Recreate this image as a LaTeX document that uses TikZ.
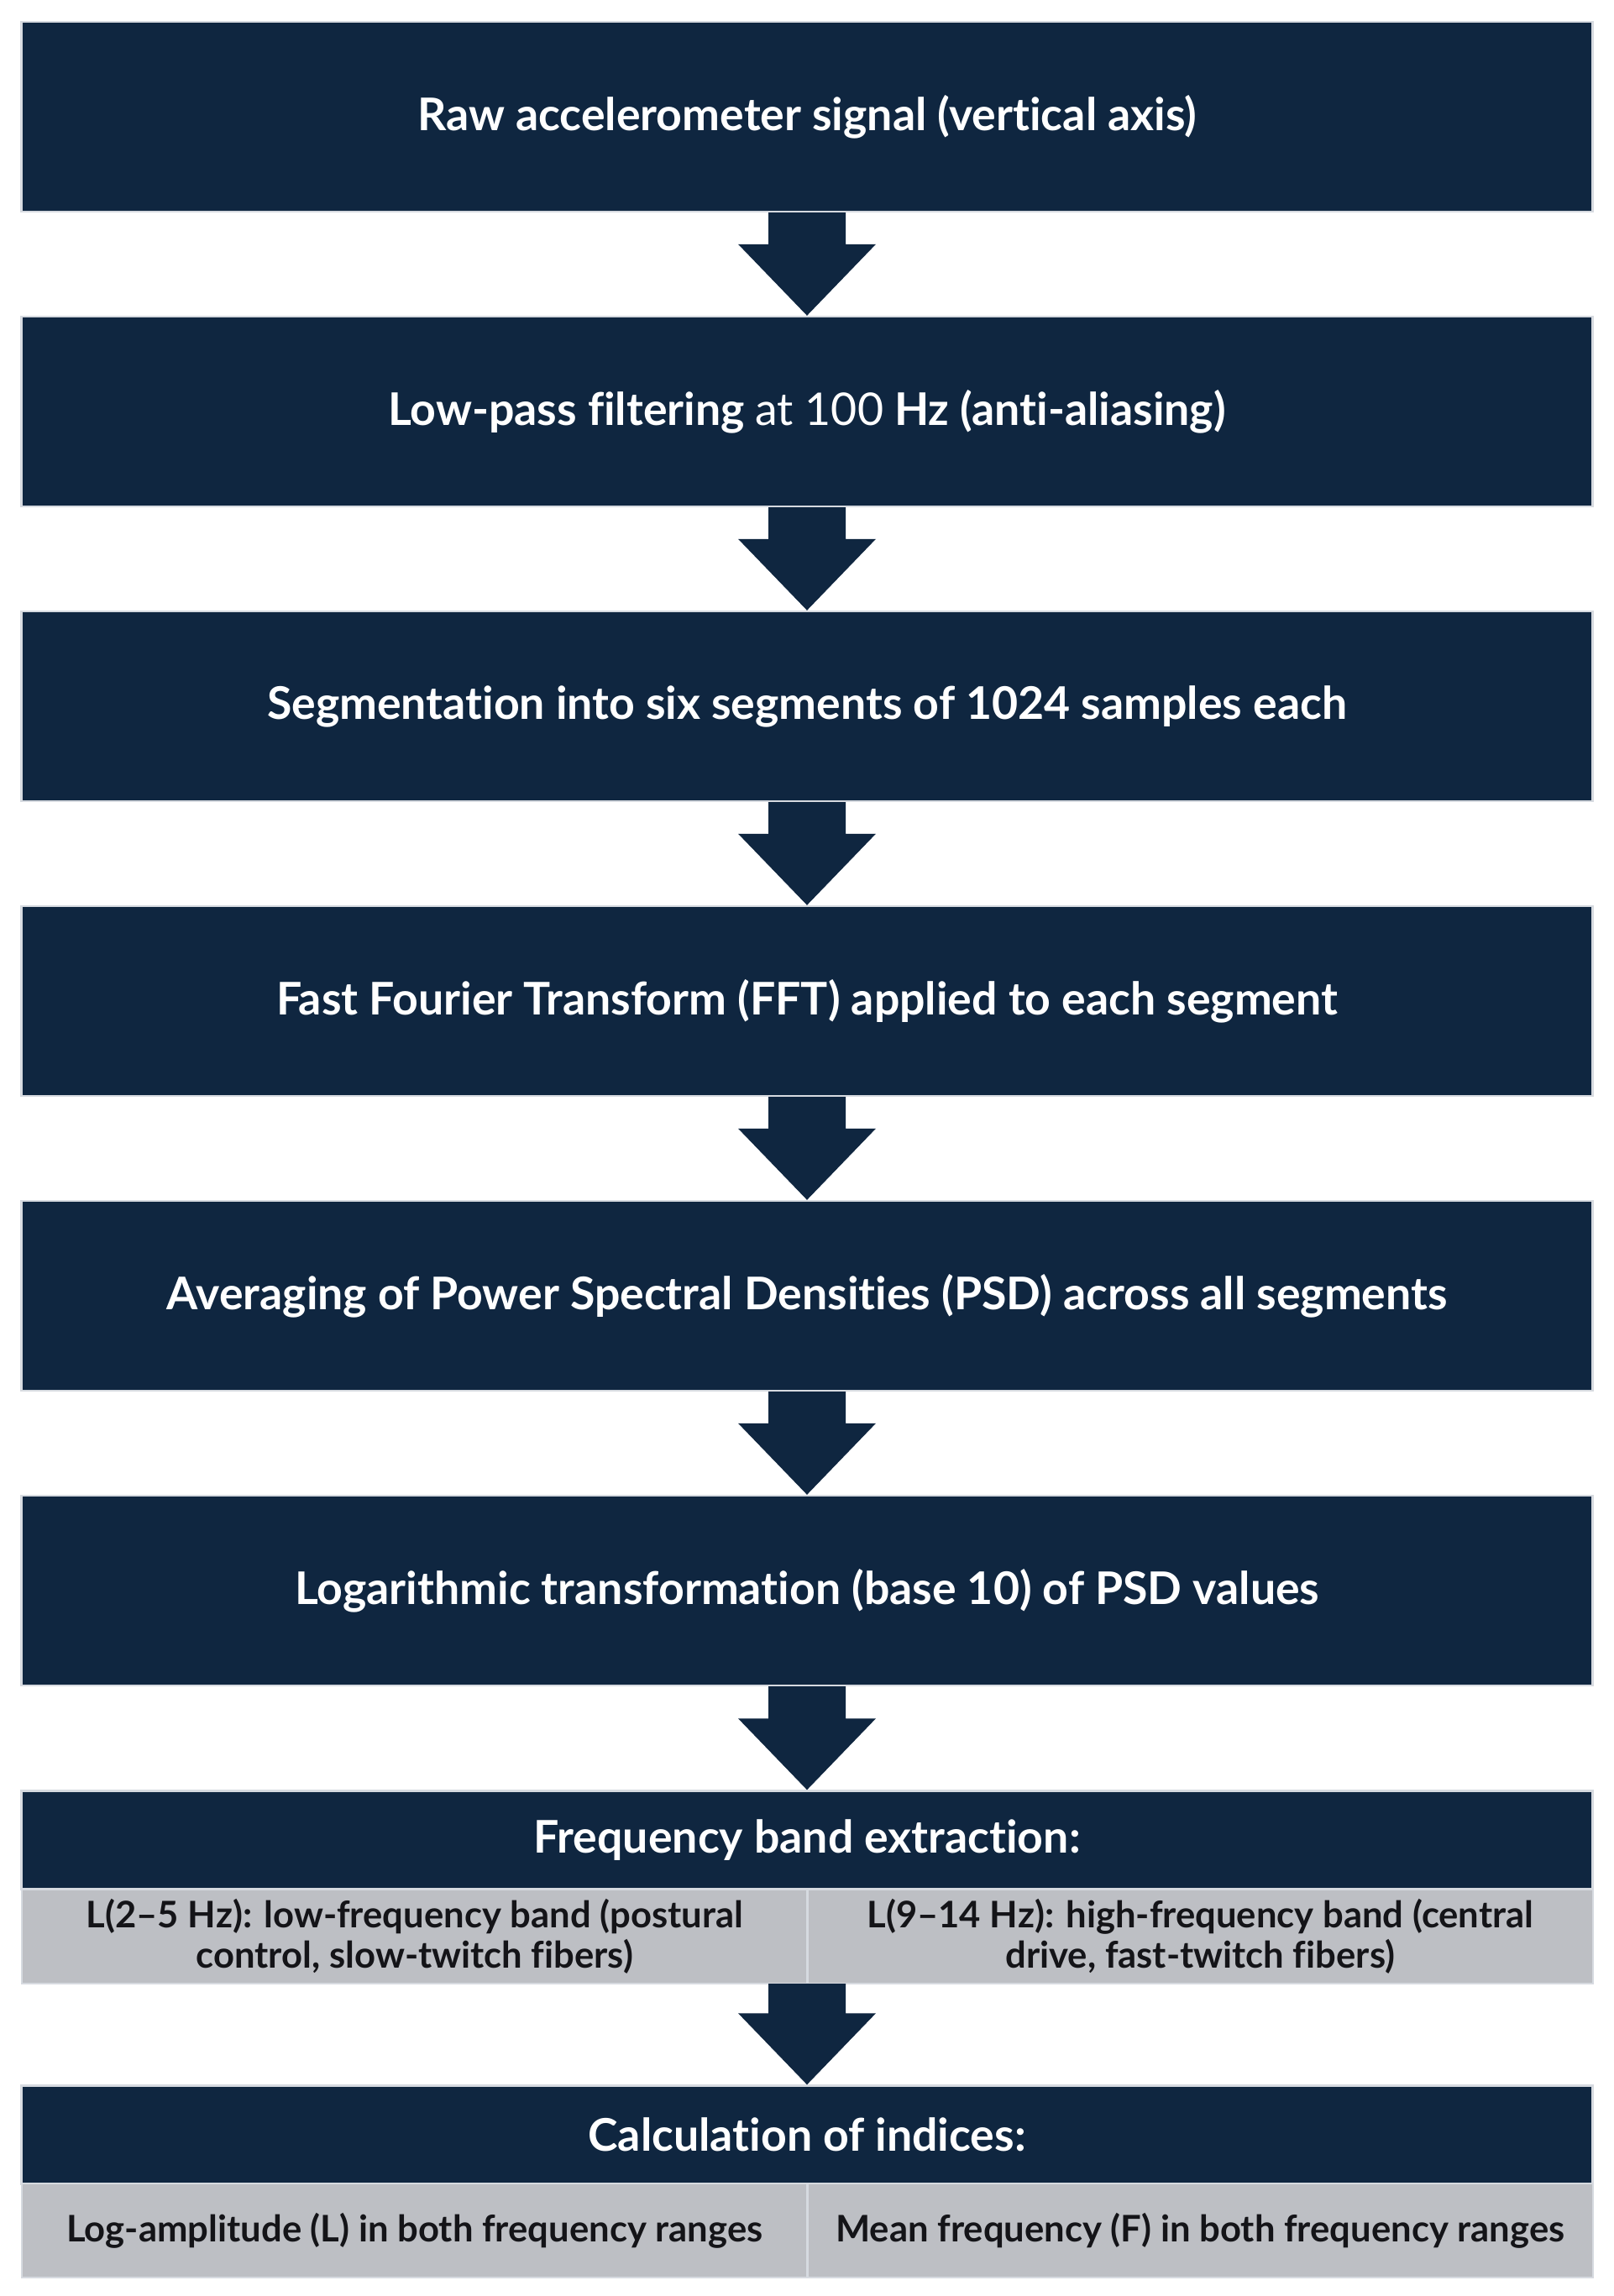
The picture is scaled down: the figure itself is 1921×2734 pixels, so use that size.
\documentclass[tikz,border=0pt]{standalone}
\usepackage{fontspec}
\setmainfont{Lato}[Ligatures={NoCommon}]
\usetikzlibrary{calc}
\definecolor{navy}{RGB}{15,38,64}
\definecolor{cellgrey}{RGB}{189,191,196}
\definecolor{edgegrey}{RGB}{214,218,224}
\definecolor{celltext}{RGB}{20,20,24}
\newcommand\flowarrow[2]{%
  \fill[navy] ($(#1)+(-46,0)$) -- ($(#2)+(-46,-85)$) -- ($(#2)+(-82,-85)$)
    -- (#2) -- ($(#2)+(82,-85)$) -- ($(#2)+(46,-85)$)
    -- ($(#1)+(46,0)$) -- cycle;}
\begin{document}
\begin{tikzpicture}[x=0.5pt,y=-0.5pt,
  stepbox/.style={fill=navy, draw=edgegrey, line width=1.2pt, inner sep=0pt,
    minimum width=935.5pt, minimum height=113pt, text=white, align=center,
    font=\bfseries\fontsize{26.8}{32}\selectfont},
  headbox/.style={stepbox, minimum height=58.5pt},
  cellbox/.style={fill=cellgrey, draw=edgegrey, line width=1.2pt, inner sep=0pt,
    minimum width=467.75pt, minimum height=56pt, text=celltext, align=center,
    font=\bfseries\fontsize{21.8}{24}\selectfont}]
\useasboundingbox (0,0) rectangle (1921,2734);
\fill[white] (0,0) rectangle (1921,2734);

\node[stepbox] (b1) at (961,139) {Raw accelerometer signal (vertical axis)};
\node[stepbox] (b2) at (961,490) {Low-pass filtering {\mdseries at 100} Hz (anti-aliasing)};
\node[stepbox] (b3) at (961,841) {Segmentation into six segments of 1024 samples each};
\node[stepbox] (b4) at (961,1192) {Fast Fourier Transform (FFT) applied to each segment};
\node[stepbox] (b5) at (961,1543) {Averaging of Power Spectral Densities (PSD) across all segments};
\node[stepbox] (b6) at (961,1894) {Logarithmic transformation (base 10) of PSD values};

\node[headbox] (h7) at (961,2191) {Frequency band extraction:};
\node[cellbox] (c7l) at (493.75,2306) {L(2--5 Hz): low-frequency band (postural\\control, slow-twitch fibers)};
\node[cellbox] (c7r) at (1429.25,2306) {L(9--14 Hz): high-frequency band (central\\drive, fast-twitch fibers)};
\coordinate (g7) at (961,2362);

\node[headbox] (h8) at (961,2542) {Calculation of indices:};
\node[cellbox] (c8l) at (493.75,2656) {Log-amplitude (L) in both frequency ranges};
\node[cellbox] (c8r) at (1429.25,2656) {Mean frequency (F) in both frequency ranges};

\flowarrow{b1.south}{b2.north}
\flowarrow{b2.south}{b3.north}
\flowarrow{b3.south}{b4.north}
\flowarrow{b4.south}{b5.north}
\flowarrow{b5.south}{b6.north}
\flowarrow{b6.south}{h7.north}
\flowarrow{g7}{h8.north}
\end{tikzpicture}
\end{document}
